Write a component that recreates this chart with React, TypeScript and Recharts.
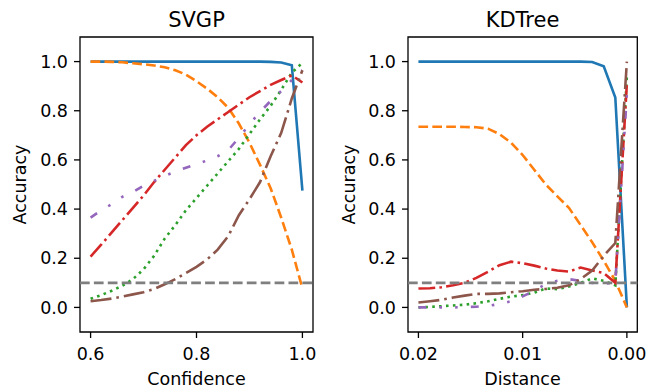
import { LineChart, Line, XAxis, YAxis, ReferenceLine, ReferenceArea } from "recharts";

const svgpConfidence = [0.6, 0.62, 0.64, 0.66, 0.68, 0.7, 0.72, 0.74, 0.76, 0.78, 0.8, 0.82, 0.84, 0.86, 0.88, 0.9, 0.92, 0.94, 0.96, 0.98, 1.0];
const svgpBlue = [1, 1, 1, 1, 1, 1, 1, 1, 1, 1, 1, 1, 1, 1, 1, 1, 1, 0.999, 0.996, 0.985, 0.475];
const svgpOrange = [1, 1, 0.999, 0.997, 0.993, 0.989, 0.984, 0.977, 0.965, 0.947, 0.92, 0.89, 0.855, 0.812, 0.748, 0.67, 0.58, 0.485, 0.365, 0.235, 0.077];
const svgpGreen = [0.035, 0.05, 0.068, 0.088, 0.115, 0.155, 0.21, 0.28, 0.335, 0.395, 0.445, 0.495, 0.545, 0.595, 0.645, 0.705, 0.765, 0.82, 0.885, 0.955, 0.995];
const svgpRed = [0.207, 0.255, 0.305, 0.355, 0.405, 0.455, 0.51, 0.56, 0.61, 0.66, 0.7, 0.735, 0.765, 0.795, 0.825, 0.855, 0.88, 0.905, 0.925, 0.944, 0.915];
const svgpPurple = [0.365, 0.395, 0.42, 0.45, 0.47, 0.495, 0.515, 0.535, 0.553, 0.568, 0.582, 0.598, 0.615, 0.64, 0.69, 0.745, 0.795, 0.84, 0.88, 0.925, 0.965];
const svgpBrown = [0.025, 0.03, 0.036, 0.044, 0.053, 0.062, 0.075, 0.094, 0.115, 0.14, 0.165, 0.195, 0.235, 0.29, 0.375, 0.44, 0.51, 0.615, 0.71, 0.85, 0.965];

const kdDistance = [0.02, 0.01889, 0.01778, 0.01667, 0.01556, 0.01444, 0.01333, 0.01222, 0.01111, 0.01, 0.00889, 0.00778, 0.00667, 0.00556, 0.00444, 0.00333, 0.00222, 0.00111, 0];
const kdBlue = [1, 1, 1, 1, 1, 1, 1, 1, 1, 1, 1, 1, 1, 1, 1, 0.998, 0.981, 0.854, 0];
const kdOrange = [0.735, 0.735, 0.735, 0.735, 0.734, 0.733, 0.727, 0.705, 0.67, 0.62, 0.56, 0.5, 0.452, 0.405, 0.335, 0.265, 0.19, 0.108, 0];
const kdGreen = [0, 0.002, 0.005, 0.008, 0.011, 0.017, 0.025, 0.035, 0.044, 0.05, 0.06, 0.077, 0.074, 0.085, 0.1, 0.118, 0.108, 0.09, 0.94];
const kdRed = [0.077, 0.078, 0.082, 0.09, 0.1, 0.12, 0.145, 0.172, 0.186, 0.18, 0.17, 0.158, 0.15, 0.146, 0.162, 0.15, 0.14, 0.1, 0.91];
const kdPurple = [0, 0, 0, 0, 0.001, 0.003, 0.006, 0.014, 0.025, 0.045, 0.068, 0.095, 0.108, 0.115, 0.108, 0.1, 0.097, 0.1, 0.87];
const kdBrown = [0.02, 0.025, 0.031, 0.04, 0.048, 0.055, 0.055, 0.057, 0.062, 0.066, 0.072, 0.075, 0.08, 0.09, 0.115, 0.15, 0.21, 0.262, 1.0];

const yTicks = [0, 0.2, 0.4, 0.6, 0.8, 1.0];
const svgpTicks = [0.6, 0.8, 1.0];
const kdTicks = [0.02, 0.01, 0];
const chance = 0.1;

const FONT = "DejaVu Sans";

const styles = [
  { key: "blue", color: "#1f77b4", dash: undefined },
  { key: "orange", color: "#ff7f0e", dash: "9.7 4.2" },
  { key: "green", color: "#2ca02c", dash: "2.6 4.3" },
  { key: "red", color: "#d62728", dash: "16.8 4.2 2.6 4.2" },
  { key: "purple", color: "#9467bd", dash: "7.9 13.1 2.6 13.1 2.6 13.1" },
  { key: "brown", color: "#8c564b", dash: "21 5 2.6 5" },
];

function rows(xs: number[], series: number[][]) {
  return xs.map((x, i) => ({
    x,
    blue: series[0][i],
    orange: series[1][i],
    green: series[2][i],
    red: series[3][i],
    purple: series[4][i],
    brown: series[5][i],
  }));
}

const svgpData = rows(svgpConfidence, [svgpBlue, svgpOrange, svgpGreen, svgpRed, svgpPurple, svgpBrown]);
const kdData = rows(kdDistance, [kdBlue, kdOrange, kdGreen, kdRed, kdPurple, kdBrown]);

const tickStyle = { fill: "#000", fontSize: 17.5, fontFamily: FONT };
const tickLine = { stroke: "#000", strokeWidth: 1.3 };

function Panel(props: {
  data: any[];
  xDomain: [number, number];
  xTicks: number[];
  digits: number;
  reversed: boolean;
  yWidth: number;
  right: number;
}) {
  const { data, xDomain, xTicks, digits, reversed, yWidth, right } = props;
  return (
    <LineChart width={334} height={392} data={data} margin={{ top: 37, right, bottom: 0, left: 0 }}>
      <XAxis
        dataKey="x"
        type="number"
        domain={xDomain}
        allowDataOverflow
        reversed={reversed}
        ticks={xTicks}
        tickFormatter={(v: number) => v.toFixed(digits)}
        height={60}
        axisLine={false}
        tickLine={tickLine}
        tickSize={6}
        tickMargin={10}
        tick={tickStyle}
        interval={0}
      />
      <YAxis
        type="number"
        domain={[-0.1, 1.1]}
        allowDataOverflow
        ticks={yTicks}
        tickFormatter={(v: number) => v.toFixed(1)}
        width={yWidth}
        axisLine={false}
        tickLine={tickLine}
        tickSize={6}
        tickMargin={6}
        tick={tickStyle}
        interval={0}
      />
      <ReferenceArea
        x1={xDomain[0]}
        x2={xDomain[1]}
        y1={-0.1}
        y2={1.1}
        fill="none"
        fillOpacity={0}
        stroke="#000"
        strokeWidth={1.3}
      />
      {styles.map((s) => (
        <Line
          key={s.key}
          type="linear"
          dataKey={s.key}
          stroke={s.color}
          strokeWidth={2.6}
          strokeDasharray={s.dash}
          dot={false}
          activeDot={false}
          isAnimationActive={false}
        />
      ))}
      <ReferenceLine y={chance} stroke="#7f7f7f" strokeWidth={2.6} strokeDasharray="9.7 4.2" />
    </LineChart>
  );
}

export default function App() {
  return (
    <div style={{ position: "absolute", left: 0, top: 0, width: 668, height: 392, background: "#fff" }}>
      <div style={{ position: "absolute", left: 0, top: 0 }}>
        <Panel data={svgpData} xDomain={[0.58, 1.02]} xTicks={svgpTicks} digits={1} reversed={false} yWidth={80} right={21} />
      </div>
      <div style={{ position: "absolute", left: 334, top: 0 }}>
        <Panel data={kdData} xDomain={[-0.001, 0.021]} xTicks={kdTicks} digits={2} reversed={true} yWidth={74} right={30.7} />
      </div>
      <svg width={668} height={392} style={{ position: "absolute", left: 0, top: 0, pointerEvents: "none" }}>
        <g fontFamily={FONT} fill="#000" textAnchor="middle">
          <text x={196.5} y={26.7} fontSize={21}>SVGP</text>
          <text x={522.5} y={26.7} fontSize={21}>KDTree</text>
          <text x={196.5} y={384.5} fontSize={17.5}>Confidence</text>
          <text x={522.5} y={384.5} fontSize={17.5}>Distance</text>
          <text x={26} y={184.5} fontSize={17.5} transform="rotate(-90 26 184.5)">Accuracy</text>
          <text x={355} y={184.5} fontSize={17.5} transform="rotate(-90 355 184.5)">Accuracy</text>
        </g>
      </svg>
    </div>
  );
}
